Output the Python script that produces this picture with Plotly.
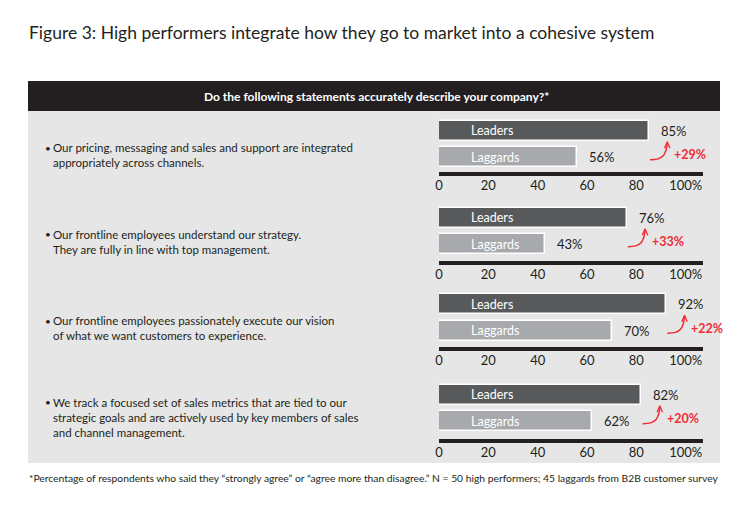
import plotly.graph_objects as go

# ---------------- data ----------------
statements = [
    "Our pricing, messaging and sales and support are integrated<br>appropriately across channels.",
    "Our frontline employees understand our strategy.<br>They are fully in line with top management.",
    "Our frontline employees passionately execute our vision<br>of what we want customers to experience.",
    "We track a focused set of sales metrics that are tied to our<br>strategic goals and are actively used by key members of sales<br>and channel management.",
]
groups = ["Leaders", "Laggards"]
leaders = [85, 76, 92, 82]
laggards = [56, 43, 70, 62]
gap_labels = ["+29%", "+33%", "+22%", "+20%"]
tick_vals = [0, 20, 40, 60, 80, 100]
tick_text = ["0", "20", "40", "60", "80", "100%"]

title = "Figure 3: High performers integrate how they go to market into a cohesive system"
header = "<b>Do the following statements accurately describe your company?*</b>"
footnote = ("*Percentage of respondents who said they \u201cstrongly agree\u201d or \u201cagree more than disagree.\u201d "
            "N = 50 high performers; 45 laggards from B2B customer survey")

# ---------------- style / layout ----------------
W, H = 750, 520
OFF = 8  # page body margin compensation
FONT = "Lato, 'Open Sans', sans-serif"
TXT = "#231f20"
DARK = "#58595b"
LIGHT = "#a7a9ac"
PANEL = "#e6e6e6"
RED = "#ee2d38"

def fx(p):
    return (p - OFF) / W

def fy(p):
    return 1 - (p - OFF) / H

ROW_TOP = [119, 205, 292, 383]      # top of each mini chart (px)
ROW_BOT = [172, 261, 347, 439]      # axis line (px)
LEAD_C = [130.5, 217.5, 304, 394.5]  # centre of leaders bar (px)
U = 26.5                            # px between bar centres
X0, X1 = 439, 703
XR = [0, 107]
TEXT_C = [155, 242, 328, 417]
ypos = {"Leaders": 1, "Laggards": 0}

fig = go.Figure()
layout_axes = {}
annotations = []

for i in range(4):
    n = "" if i == 0 else str(i + 1)
    xa, ya = "x" + n, "y" + n
    vals = [leaders[i], laggards[i]]
    fig.add_trace(go.Bar(
        x=vals, y=[ypos[g] for g in groups], orientation="h",
        width=20 / U,
        marker=dict(color=[DARK, LIGHT], line=dict(color="white", width=1.5)),
        xaxis=xa, yaxis=ya, showlegend=False, hoverinfo="skip",
    ))
    # curved red arrow from laggard level up toward leader value
    L = leaders[i]
    fig.add_trace(go.Scatter(
        x=[L + 0.5, L + 3.8, L + 6.0, L + 7.1, L + 7.5],
        y=[-0.1, -0.07, 0.06, 0.28, 0.56],
        mode="lines", line=dict(color=RED, width=1.5, shape="spline"),
        xaxis=xa, yaxis=ya, showlegend=False, hoverinfo="skip",
    ))
    fig.add_trace(go.Scatter(
        x=[L + 6.4, L + 7.5, L + 8.6],
        y=[0.33, 0.58, 0.33],
        mode="lines", line=dict(color=RED, width=1.3),
        xaxis=xa, yaxis=ya, showlegend=False, hoverinfo="skip",
    ))

    ytop = 1 + (LEAD_C[i] - ROW_TOP[i]) / U
    ybot = 0 - (ROW_BOT[i] - (LEAD_C[i] + U)) / U
    layout_axes["xaxis" + n] = dict(
        domain=[fx(X0), fx(X1)], range=XR, anchor=ya,
        showgrid=False, zeroline=False, showline=True,
        linecolor=TXT, linewidth=4, ticks="", ticklabelstandoff=-2,
        tickvals=tick_vals, ticktext=tick_text,
        tickfont=dict(family=FONT, size=13, color=TXT), fixedrange=True,
    )
    layout_axes["yaxis" + n] = dict(
        domain=[fy(ROW_BOT[i]), fy(ROW_TOP[i])], range=[ybot, ytop], anchor=xa,
        visible=False, fixedrange=True,
    )

    for g, v in zip(groups, vals):
        annotations.append(dict(
            x=0, y=ypos[g], xref=xa, yref=ya, text=g, showarrow=False,
            xanchor="left", xshift=30,
            font=dict(family=FONT, size=12.5, color="white"),
        ))
        annotations.append(dict(
            x=v, y=ypos[g], xref=xa, yref=ya, text=f"{v}%", showarrow=False,
            xanchor="left", xshift=10,
            font=dict(family=FONT, size=13, color=TXT),
        ))
    annotations.append(dict(
        x=L + 9.5, y=0.08, xref=xa, yref=ya, text=f"<b>{gap_labels[i]}</b>",
        showarrow=False, xanchor="left",
        font=dict(family=FONT, size=12.5, color=RED),
    ))

    # statement text
    annotations.append(dict(
        x=fx(43), y=fy(TEXT_C[i]), xref="paper", yref="paper", text="\u2022",
        showarrow=False, xanchor="left", yanchor="middle",
        yshift=(statements[i].count("<br>")) * 7.5,
        font=dict(family=FONT, size=10, color=TXT),
    ))
    annotations.append(dict(
        x=fx(51), y=fy(TEXT_C[i]), xref="paper", yref="paper", text=statements[i],
        showarrow=False, xanchor="left", yanchor="middle", align="left",
        font=dict(family=FONT, size=11.5, color=TXT),
    ))

annotations.append(dict(
    x=fx(27), y=fy(32), xref="paper", yref="paper", text=title, showarrow=False,
    xanchor="left", yanchor="middle", font=dict(family=FONT, size=17.5, color=TXT),
))
annotations.append(dict(
    x=fx(376), y=fy(96), xref="paper", yref="paper", text=header, showarrow=False,
    xanchor="center", yanchor="middle", font=dict(family=FONT, size=12, color="white"),
))
annotations.append(dict(
    x=fx(27), y=fy(478), xref="paper", yref="paper", text=footnote, showarrow=False,
    xanchor="left", yanchor="middle", font=dict(family=FONT, size=10.3, color=TXT),
))

shapes = [
    dict(type="rect", xref="paper", yref="paper", x0=fx(28), x1=fx(720), y0=fy(111), y1=fy(81),
         fillcolor="#231f20", line=dict(width=0), layer="below"),
    dict(type="rect", xref="paper", yref="paper", x0=fx(28), x1=fx(720), y0=fy(463), y1=fy(111),
         fillcolor=PANEL, line=dict(width=0), layer="below"),
]

fig.update_layout(
    width=W, height=H, margin=dict(l=0, r=0, t=0, b=0),
    paper_bgcolor="white", plot_bgcolor="rgba(0,0,0,0)",
    template="none", showlegend=False, bargap=0,
    annotations=annotations, shapes=shapes,
    font=dict(family=FONT, color=TXT),
    **layout_axes,
)

fig.write_html("out.html")
